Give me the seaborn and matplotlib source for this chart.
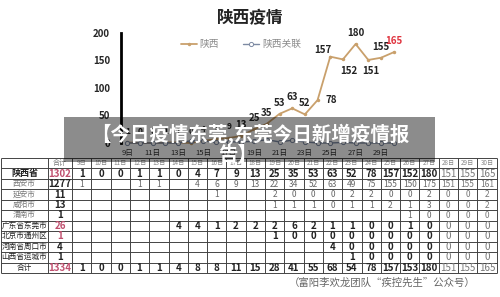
import matplotlib.pyplot as plt
import numpy as np
import pandas as pd
import seaborn as sns
from matplotlib.patches import Rectangle

sns.set_theme(style="white")
plt.rcParams["font.family"] = ["Noto Sans CJK SC", "DejaVu Sans"]

# Data
days = list(range(9, 31))
day_labels = [f"{d}日" for d in days]
shaanxi = [1, 0, 0, 1, 1, 0, 4, 7, 9, 13, 25, 35, 53, 63, 52, 78, 157, 152, 180, 151, 155, 165]
related = [0, 0, 0, 0, 0, 4, 4, 1, 2, 2, 3, 6, 2, 5, 2, 0, 0, 1, 0, 0, 0, 0]

regions = ["陕西省", "西安市", "延安市", "咸阳市", "渭南市", "广东省东莞市",
           "北京市通州区", "河南省周口市", "山西省运城市", "合计"]
totals = [1302, 1277, 11, 13, 1, 26, 1, 4, 1, 1334]
N = None
table_rows = [
    shaanxi,
    [1, N, N, 1, 1, N, 4, 6, 9, 13, 22, 34, 52, 63, 49, 75, 155, 150, 175, 151, 155, 161],
    [N] * 7 + [1, N, N, 2, 0, 0, 0, 2, 2, 0, 0, 2, 0, 0, 2],
    [N] * 10 + [1, 1, 1, 0, 1, 1, 2, 1, 3, 0, 0, 2],
    [N] * 17 + [1, 0, 0, 0, 0],
    [N] * 5 + [4, 4, 1, 2, 2, 2, 6, 2, 1, 1, 0, 0, 1, 0, 0, 0, 0],
    [N] * 10 + [1] + [0] * 11,
    [N] * 13 + [4] + [0] * 8,
    [N] * 14 + [1] + [0] * 7,
    [1, 0, 0, 1, 1, 4, 8, 8, 11, 15, 28, 41, 55, 68, 54, 78, 157, 153, 180, 151, 155, 165],
]

W, H = 500, 297
fig = plt.figure(figsize=(5, 2.97), dpi=100)


def box(x0, y0, x1, y1):
    # pixel box (top-left origin) -> figure fraction rect
    return [x0 / W, 1 - y1 / H, (x1 - x0) / W, (y1 - y0) / H]


# ---------------- line chart ----------------
ax = fig.add_axes(box(121, 33, 400, 143))
df = pd.DataFrame({"day": days, "陕西": shaanxi, "陕西关联": related})
sns.lineplot(data=df, x="day", y="陕西", color="#c9a06c", linewidth=1.3,
             marker="o", markersize=2.5, markeredgewidth=0, label="陕西", ax=ax)
sns.lineplot(data=df, x="day", y="陕西关联", color="#7d8aa3", linewidth=1.0,
             marker="o", markersize=3, markerfacecolor="white",
             markeredgecolor="#7d8aa3", markeredgewidth=0.7, label="陕西关联", ax=ax)
for ln in ax.lines:
    ln.set_clip_on(False)

ax.set(xlim=(8.5, 30.5), ylim=(0, 200), xlabel="", ylabel="")
ax.set_yticks([0, 50, 100, 150, 200])
ax.set_yticklabels(["0", "50", "100", "150", "200"], fontsize=7, fontweight="bold")
ax.set_xticks(days[::2])
ax.set_xticklabels(day_labels[::2], fontsize=5.5, color="#333333")
ax.tick_params(axis="y", length=0, pad=8)
ax.tick_params(axis="x", length=0, pad=4)
for s in ["top", "right", "bottom"]:
    ax.spines[s].set_visible(False)
ax.spines["left"].set_linewidth(2)
ax.spines["left"].set_color("black")

offsets = {24: (10, 0), 25: (-5, 5), 26: (4, -8), 28: (2, -8)}
for d, v in zip(days, shaanxi):
    dx, dy = offsets.get(d, (0, 8))
    ax.annotate(str(v), (d, v), xytext=(dx, dy), textcoords="offset points",
                ha="center", va="center", fontsize=7 if v > 9 else 6,
                fontweight="bold",
                color="#e0343f" if d == 30 else "#222222", annotation_clip=False)

leg = ax.legend(loc="center", bbox_to_anchor=(0.43, 0.9), ncol=2, frameon=False,
                fontsize=7, handlelength=1.6, columnspacing=2.5, handletextpad=0.3)
for t in leg.get_texts():
    t.set_color("#8a8a8a")

fig.text(250 / W, 1 - 18 / H, "陕西疫情", ha="center", va="center",
         fontsize=12, fontweight="bold", color="#222222")

# ---------------- table ----------------
tab = fig.add_axes(box(0, 158, 500, 274))
tab.set_xlim(0, 500)
tab.set_ylim(274, 158)
tab.axis("off")

col_w = 19.3
x_edges = [1, 48, 72] + [72 + col_w * (i + 1) for i in range(len(days))]
n_rows = len(regions) + 1
row_h = (273 - 158) / n_rows
y_edges = [158 + row_h * i for i in range(n_rows + 1)]

tab.hlines(y_edges, x_edges[0], x_edges[-1], color="#444444", linewidth=0.7)
tab.vlines(x_edges, y_edges[0], y_edges[-1], color="#444444", linewidth=0.7)


def cx(i):
    return (x_edges[i] + x_edges[i + 1]) / 2


def cy(r):
    return (y_edges[r] + y_edges[r + 1]) / 2


tab.text(cx(1), cy(0), "合计", ha="center", va="center", fontsize=5, color="#777777")
for j, lab in enumerate(day_labels):
    tab.text(cx(j + 2), cy(0), lab, ha="center", va="center", fontsize=4.5, color="#888888")

red = "#c0506f"
bold_rows = {0, 5, 6, 7, 8, 9}
for r, (name, tot, vals) in enumerate(zip(regions, totals, table_rows)):
    yy = cy(r + 1)
    name_color = "#222222" if r in bold_rows else "#777777"
    tab.text(cx(0), yy, name, ha="center", va="center", fontsize=5.5 if r else 6.5,
             color=name_color, fontweight="bold" if r == 0 else "normal")
    tot_color = red if tot in (1302, 26, 1334) or name == "北京市通州区" else "#222222"
    tab.text(cx(1), yy, str(tot), ha="center", va="center", fontsize=7,
             color=tot_color, fontweight="bold")
    for j, v in enumerate(vals):
        if v is None:
            continue
        strong = r in bold_rows
        c = "#222222" if strong else "#666666"
        if j >= 19:
            c = "#777777"
        tab.text(cx(j + 2), yy, str(v), ha="center", va="center",
                 fontsize=7 if strong else 6, color=c,
                 fontweight="bold" if strong and j < 19 else "normal")

fig.text(382 / W, 1 - 283 / H, "（富阳李欢龙团队“疾控先生”公众号）", ha="center",
         va="center", fontsize=7.5, color="#666666")

# ---------------- overlay caption ----------------
fig.patches.append(Rectangle((64 / W, 1 - 162 / H), 371 / W, 45 / H,
                             transform=fig.transFigure, facecolor="black",
                             alpha=0.45, edgecolor="none", zorder=10))
fig.text(250 / W, 1 - 134 / H, "【今日疫情东莞,东莞今日新增疫情报", ha="center",
         va="center", fontsize=14, fontweight="bold", color="white", zorder=11)
fig.text(238 / W, 1 - 155 / H, "告】", ha="center", va="center",
         fontsize=14, fontweight="bold", color="white", zorder=11)

fig.savefig("out.png", dpi=100)
